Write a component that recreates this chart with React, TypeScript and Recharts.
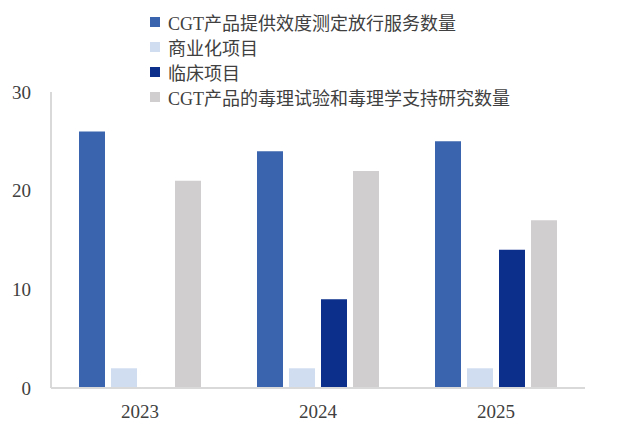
import { Bar, BarChart, XAxis, YAxis } from 'recharts'

const years = ['2023', '2024', '2025']
const potencyServices = [26, 24, 25]
const commercialProjects = [2, 2, 2]
const clinicalProjects = [0, 9, 14]
const toxicologyStudies = [21, 22, 17]
const yTicks = [0, 10, 20, 30]

const series = [
    { key: 'potency', name: 'CGT产品提供效度测定放行服务数量', color: '#3a64ad' },
    { key: 'commercial', name: '商业化项目', color: '#d0ddf0' },
    { key: 'clinical', name: '临床项目', color: '#0b2f8a' },
    { key: 'toxicology', name: 'CGT产品的毒理试验和毒理学支持研究数量', color: '#d0cece' },
]

const data = years.map((year, i) => ({
    year,
    potency: potencyServices[i],
    commercial: commercialProjects[i],
    clinical: clinicalProjects[i],
    toxicology: toxicologyStudies[i],
}))

const font = "'Liberation Serif', 'Noto Sans CJK SC', serif"
const tickStyle = { fill: '#404040', fontSize: 19, fontFamily: font }

// legend sits above the plot, overlaid so it does not push the plot down
const LegendList = () => (
    <div
        style={{
            position: 'absolute',
            top: 1,
            left: 142,
            fontFamily: font,
            fontSize: 18,
            color: '#404040',
        }}
    >
        {series.map((s) => (
            <div key={s.key} style={{ display: 'flex', alignItems: 'center', height: 25 }}>
                <span style={{ width: 10, height: 10, background: s.color, marginRight: 8 }} />
                <span>{s.name}</span>
            </div>
        ))}
    </div>
)

export default function App() {
    return (
        <div style={{ position: 'relative', width: 604, height: 417 }}>
            <LegendList />
            <BarChart
                width={604}
                height={417}
                data={data}
                margin={{ top: 84, right: 27, bottom: 0, left: 13 }}
                barSize={26}
                barGap={6}
            >
                <XAxis
                    dataKey="year"
                    height={37}
                    tickLine={false}
                    tickSize={0}
                    tickMargin={17}
                    axisLine={{ stroke: '#d9d9d9', strokeWidth: 2 }}
                    tick={tickStyle}
                />
                <YAxis
                    width={30}
                    domain={[0, 30]}
                    ticks={yTicks}
                    tickLine={false}
                    tickSize={0}
                    tickMargin={20}
                    axisLine={{ stroke: '#d9d9d9', strokeWidth: 2 }}
                    tick={tickStyle}
                />
                {series.map((s) => (
                    <Bar
                        key={s.key}
                        dataKey={s.key}
                        name={s.name}
                        fill={s.color}
                        isAnimationActive={false}
                    />
                ))}
            </BarChart>
        </div>
    )
}
